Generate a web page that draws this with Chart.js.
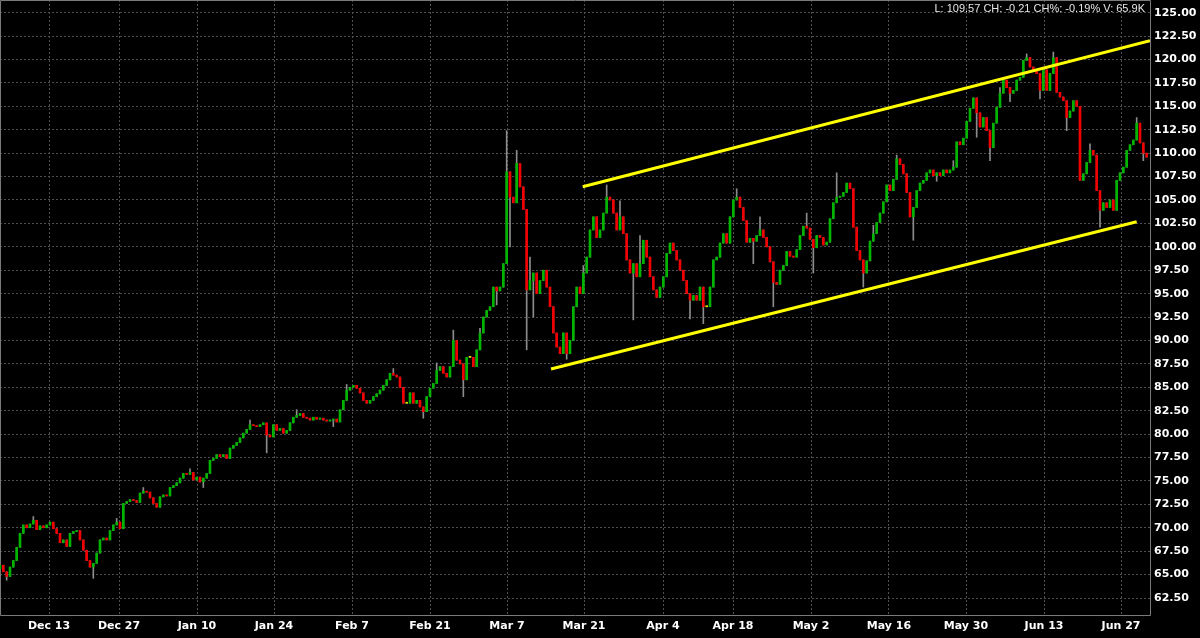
<!DOCTYPE html>
<html><head><meta charset="utf-8">
<script src="https://cdn.jsdelivr.net/npm/chart.js@4/dist/chart.umd.min.js"></script>
<style>html,body{margin:0;padding:0;background:#000;overflow:hidden}canvas{display:block}</style>
</head><body>
<canvas id="c" width="1200" height="638"></canvas>
<script>
// closing prices, one candle per slot (about 2.3 candles per trading day)
const closes = [
66.0,65.3,64.8,65.8,66.5,67.9,69.4,70.3,70.0,70.4,
70.8,69.8,70.2,70.0,70.3,70.6,69.9,69.4,68.4,68.7,
68.0,69.4,69.6,69.7,68.7,67.6,66.5,65.8,66.2,67.3,
68.7,68.9,68.7,69.7,70.3,70.6,69.9,72.6,72.8,73.0,
72.9,72.7,73.7,73.9,73.8,73.2,72.6,72.2,73.3,73.5,
73.4,74.3,74.5,74.8,75.3,75.8,75.7,75.9,75.1,75.4,
74.9,75.3,75.8,77.2,77.4,77.8,77.6,77.8,77.4,78.5,
78.8,79.1,79.6,80.1,80.5,81.0,80.9,80.8,81.0,81.2,
79.9,79.7,81.0,80.4,80.6,80.1,80.4,81.2,81.8,82.0,
82.2,81.8,81.7,81.5,81.8,81.6,81.7,81.5,81.4,81.5,
81.6,81.3,82.6,83.6,84.7,85.0,85.2,84.9,84.4,83.6,
83.3,83.6,84.0,84.3,84.7,85.2,85.8,86.5,86.3,86.1,
85.0,83.3,83.3,84.4,83.3,83.6,82.9,82.4,84.0,84.9,
85.4,86.8,87.2,86.5,86.1,87.2,90.0,87.9,87.5,85.8,
88.2,88.2,87.2,89.0,90.8,92.5,93.2,93.6,95.7,95.3,
95.7,98.2,108.0,105.3,104.7,108.9,106.4,104.0,95.4,96.4,
97.2,95.0,96.4,97.5,95.7,93.6,90.8,89.3,88.6,90.8,
88.6,90.0,93.6,95.7,95.0,97.2,98.9,101.8,103.2,101.0,
101.8,103.6,105.3,105.0,103.6,101.8,103.2,101.4,98.6,97.2,
98.2,96.8,98.2,100.7,98.9,96.8,95.4,94.6,95.7,96.8,
99.3,100.4,99.6,98.6,97.5,96.4,95.0,94.3,94.8,94.3,
95.7,93.6,93.6,95.7,98.6,98.9,100.4,101.4,100.4,103.2,
105.0,105.3,104.2,102.8,100.5,100.9,100.6,101.2,101.8,101.0,
100.0,98.4,96.2,96.0,97.5,98.0,99.5,99.0,98.9,99.7,
101.2,102.2,102.0,100.8,99.9,101.2,101.0,100.2,100.5,103.0,
104.7,105.3,105.4,105.8,106.8,106.2,102.1,99.6,98.6,97.2,
98.5,100.6,101.4,102.6,103.6,104.8,106.6,106.0,107.2,109.4,
108.8,107.8,105.8,103.2,104.2,106.0,106.8,107.1,107.9,108.2,
107.6,107.9,107.6,108.2,107.9,108.2,108.5,111.2,110.9,111.6,
113.4,114.8,115.9,114.3,112.8,113.8,112.4,110.6,113.2,114.9,
116.4,117.8,117.0,116.4,116.7,117.8,118.1,119.9,120.2,119.2,
118.9,118.5,116.7,118.9,116.7,118.5,120.2,116.5,116.0,115.6,
113.8,114.5,115.6,115.0,107.1,107.8,109.0,110.3,109.8,106.0,
103.9,104.7,104.2,105.0,103.9,107.1,107.9,108.5,110.3,110.9,
111.4,113.2,111.1,110.0,109.57
];
const firstOpen = 65.6;
// notable wick extremes (candle index: price)
const wickHigh = {10:71.2,35:71.0,43:74.3,57:76.3,75:81.5,89:82.6,104:85.3,118:87.0,131:87.6,136:91.1,144:91.3,152:112.4,155:110.3,159:98.9,175:98.0,182:106.6,186:104.9,192:101.2,221:106.2,228:103.2,242:103.6,251:107.9,262:102.3,269:109.8,286:109.2,300:117.0,308:120.6,316:120.8,327:111.0,341:113.8};
const wickLow = {2:64.4,28:64.6,61:74.3,80:78.0,100:80.8,121:83.8,127:81.7,139:84.0,149:93.8,153:100.0,158:89.0,160:92.5,170:88.0,176:97.4,190:92.2,207:92.3,211:91.8,226:98.2,232:93.6,244:97.2,259:95.7,274:100.7,281:107.0,293:111.7,297:109.2,303:115.5,312:115.8,320:112.4,330:102.1,343:109.2};

const tickLabels = ['Dec 13','Dec 27','Jan 10','Jan 24','Feb 7','Feb 21','Mar 7','Mar 21','Apr 4','Apr 18','May 2','May 16','May 30','Jun 13','Jun 27'];
const tickPos = [14.7,35.7,59.1,82.2,105.6,129.0,152.1,175.2,198.9,219.9,243.3,266.7,289.8,313.2,336.3];
const yTicks = [62.5,65,67.5,70,72.5,75,77.5,80,82.5,85,87.5,90,92.5,95,97.5,100,102.5,105,107.5,110,112.5,115,117.5,120,122.5,125];

const upperChannel = [{x:174.8,y:106.42},{x:345,y:122.01}];
const lowerChannel = [{x:165.3,y:86.95},{x:341.0,y:102.68}];
const infoText = 'L: 109.57 CH: -0.21 CH%: -0.19% V: 65.9K';

const opens = closes.map((c,i)=> i===0 ? firstOpen : closes[i-1]);
const bodies = closes.map((c,i)=>({x:i, y:[opens[i], c]}));
const bodyColors = closes.map((c,i)=> c>opens[i] ? '#00b400' : (c<opens[i] ? '#f00000' : '#e0e000'));
const wicks = closes.map((c,i)=>{
  const lo = Math.min(opens[i], c, wickLow[i] !== undefined ? wickLow[i] : Infinity);
  const hi = Math.max(opens[i], c, wickHigh[i] !== undefined ? wickHigh[i] : -Infinity);
  return {x:i, y:[lo, hi]};
});

const bg = {id:'bg', beforeDraw(ch){const c=ch.ctx;c.save();c.fillStyle='#000';c.fillRect(0,0,ch.width,ch.height);c.restore();}};
const frame = {id:'frame', beforeDatasetsDraw(ch){const a=ch.chartArea,c=ch.ctx;c.save();c.strokeStyle='#7a7a7a';c.lineWidth=1;
  c.beginPath();
  c.moveTo(Math.round(a.left)+0.5, Math.round(a.bottom)+0.5);
  c.lineTo(Math.round(a.left)+0.5, Math.round(a.top)+0.5);
  c.lineTo(Math.round(a.right)+0.5, Math.round(a.top)+0.5);
  c.lineTo(Math.round(a.right)+0.5, Math.round(a.bottom)+0.5);
  c.closePath(); c.stroke(); c.restore();}};
const info = {id:'info', afterDraw(ch){const c=ch.ctx;c.save();c.font='11px "Liberation Sans", Arial, sans-serif';c.fillStyle='#e6e6e6';
  c.textAlign='right';c.textBaseline='middle';c.fillText(infoText,1145,9);c.restore();}};

const tickFont = {family:'"DejaVu Sans", Verdana, sans-serif', size:11, weight:'bold'};

new Chart(document.getElementById('c'), {
  type:'bar',
  data:{datasets:[
    {type:'line', data:upperChannel, borderColor:'#ffff00', borderWidth:3, pointRadius:0, order:0},
    {type:'line', data:lowerChannel, borderColor:'#ffff00', borderWidth:3, pointRadius:0, order:0},
    {data:bodies, backgroundColor:bodyColors, barThickness:2, grouped:false, minBarLength:1, order:2},
    {data:wicks, backgroundColor:'#8c8c8c', barThickness:1, grouped:false, order:3}
  ]},
  options:{
    responsive:false, animation:false, devicePixelRatio:1,
    layout:{padding:0},
    plugins:{legend:{display:false}, tooltip:{enabled:false}},
    scales:{
      x:{type:'linear', min:0, max:345, offset:false,
        grid:{color:'#505050', lineWidth:1, drawTicks:false, offset:false},
        border:{display:false, dash:[2,2]},
        ticks:{autoSkip:false, maxRotation:0, color:'#ffffff', font:tickFont, padding:5,
          callback:(v,i)=>tickLabels[i]},
        afterBuildTicks:s=>{s.ticks = tickPos.map(v=>({value:v}));},
        afterFit:s=>{s.height=23; s.paddingLeft=0; s.paddingRight=0;}
      },
      y:{position:'right', min:60.685, max:126.356,
        grid:{color:'#505050', lineWidth:1, drawTicks:false, offset:false},
        border:{display:false, dash:[2,2]},
        ticks:{color:'#ffffff', font:tickFont, padding:4, callback:v=>Number(v).toFixed(2)},
        afterBuildTicks:s=>{s.ticks = yTicks.map(v=>({value:v}));},
        afterFit:s=>{s.width=50; s.paddingTop=0; s.paddingBottom=0;}
      }
    }
  },
  plugins:[bg, frame, info]
});
</script>
</body></html>
